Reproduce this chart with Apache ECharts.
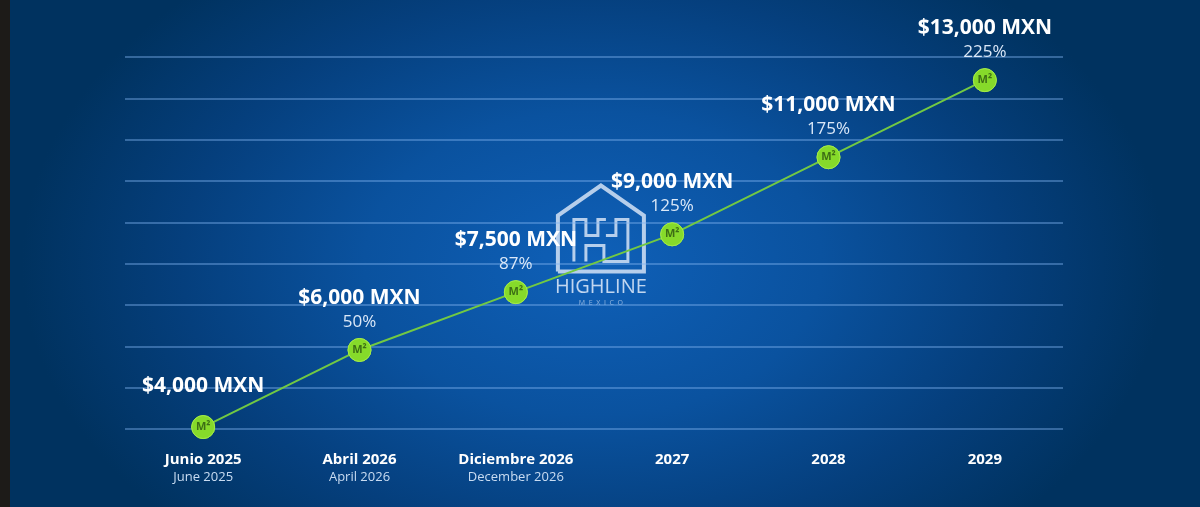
<!DOCTYPE html>
<html lang="es">
<head>
  <meta charset="utf-8">
  <title>Plusvalía HighLine</title>
  <script src="https://cdn.jsdelivr.net/npm/echarts@6/dist/echarts.min.js"></script>
  <style>
    html, body { margin: 0; padding: 0; background: #1d1b18; }
    #chart {
      position: absolute; left: 10px; top: 0;
      width: 1190px; height: 507px;
      background: radial-gradient(ellipse 48% 75% at 49% 52%, #0f60b8 0%, #0a529f 40%, #053f7d 72%, #00325f 100%);
    }
  </style>
</head>
<body>
<div id="chart"></div>
<script type="text/javascript">
// datos
var etapas = ['Junio 2025', 'Abril 2026', 'Diciembre 2026', '2027', '2028', '2029'];
var etapasEn = ['June 2025', 'April 2026', 'December 2026', '', '', ''];
var precios = [4000, 6000, 7500, 9000, 11000, 13000];
var plusvalia = [null, 50, 87, 125, 175, 225];

var myChart = echarts.init(document.getElementById('chart'));
var fuente = "'Open Sans', 'DejaVu Sans', sans-serif";

function precioTxt(v) {
  return '$' + v.toLocaleString('en-US') + ' MXN';
}

// el primer punto no tiene porcentaje, su etiqueta va un poco mas arriba
var datosLinea = precios.map(function (v, i) {
  if (plusvalia[i] == null) return { value: v, label: { distance: 16 } };
  return v;
});

var option = {
  backgroundColor: 'transparent',
  animation: false,
  grid: { left: 115, right: 137, top: 57, bottom: 78 },
  xAxis: {
    type: 'category',
    data: etapas,
    boundaryGap: true,
    axisLine: { show: false },
    axisTick: { show: false },
    axisLabel: {
      margin: 22,
      interval: 0,
      formatter: function (val, idx) {
        var s = '{a|' + val + '}';
        if (etapasEn[idx]) s += '\n{b|' + etapasEn[idx] + '}';
        return s;
      },
      rich: {
        a: { color: '#ffffff', fontFamily: fuente, fontWeight: 'bold', fontSize: 15, lineHeight: 18 },
        b: { color: '#c9dcf2', fontFamily: fuente, fontSize: 13, lineHeight: 16 }
      }
    }
  },
  yAxis: [
    {
      type: 'value',
      min: 3950,
      max: 13600,
      show: false
    },
    {
      // solo para las lineas horizontales
      type: 'value',
      min: 0,
      max: 9,
      interval: 1,
      axisLine: { show: false },
      axisTick: { show: false },
      axisLabel: { show: false },
      splitLine: { lineStyle: { color: 'rgba(130,180,240,0.55)', width: 1.5 } }
    }
  ],
  series: [
    {
      type: 'line',
      data: datosLinea,
      yAxisIndex: 0,
      symbol: 'circle',
      symbolSize: 23,
      lineStyle: { color: '#72c943', width: 2 },
      itemStyle: { color: '#86d92a', borderColor: '#a5ec4a', borderWidth: 1 },
      label: {
        show: true,
        position: 'top',
        distance: 5,
        formatter: function (p) {
          var s = '{p|' + precioTxt(p.value) + '}';
          if (plusvalia[p.dataIndex] != null) s += '\n{q|' + plusvalia[p.dataIndex] + '%}';
          return s;
        },
        rich: {
          p: { color: '#ffffff', fontFamily: fuente, fontWeight: 'bold', fontSize: 21, lineHeight: 26 },
          q: { color: '#dbe8f8', fontFamily: fuente, fontSize: 17, lineHeight: 22 }
        }
      },
      z: 3
    },
    {
      type: 'scatter',
      data: precios,
      yAxisIndex: 0,
      symbol: 'circle',
      symbolSize: 23,
      itemStyle: { color: '#86d92a', borderColor: '#a5ec4a', borderWidth: 1 },
      label: {
        show: true,
        position: 'inside',
        formatter: 'M²',
        color: '#2a5210',
        fontFamily: fuente,
        fontWeight: 'bold',
        fontSize: 11
      },
      z: 4
    }
  ],
  graphic: [
    {
      type: 'group',
      left: 545,
      top: 183,
      z: 10,
      children: [
        {
          type: 'polyline',
          shape: { points: [[2, 88], [2, 32], [45, 2], [88, 32], [88, 88], [2, 88]] },
          style: { stroke: 'rgba(225,235,250,0.8)', lineWidth: 4, fill: 'none' }
        },
        {
          type: 'polyline',
          shape: { points: [[18, 78], [18, 36], [30, 36], [30, 52], [42, 52], [42, 36], [50, 36]] },
          style: { stroke: 'rgba(225,235,250,0.8)', lineWidth: 3, fill: 'none' }
        },
        {
          type: 'polyline',
          shape: { points: [[30, 78], [30, 62], [48, 62], [48, 78], [72, 78], [72, 36], [60, 36], [60, 52], [50, 52]] },
          style: { stroke: 'rgba(225,235,250,0.8)', lineWidth: 3, fill: 'none' }
        },
        {
          type: 'text',
          x: 45, y: 94,
          style: { text: 'HIGHLINE', fill: 'rgba(225,235,250,0.85)', font: '500 20px ' + fuente, textAlign: 'center' }
        },
        {
          type: 'text',
          x: 45, y: 116,
          style: { text: 'M  E  X  I  C  O', fill: 'rgba(225,235,250,0.6)', font: '7px ' + fuente, textAlign: 'center' }
        }
      ]
    }
  ]
};

myChart.setOption(option);
</script>
</body>
</html>
